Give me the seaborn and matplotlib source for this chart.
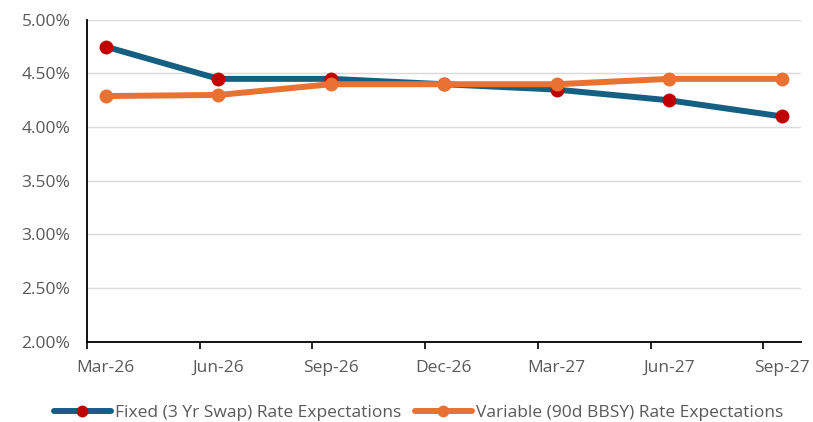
import numpy as np
import pandas as pd
import matplotlib
matplotlib.use("Agg")
import matplotlib.pyplot as plt
import seaborn as sns
from matplotlib.ticker import FixedLocator, FuncFormatter

# Quarterly periods and rate expectations (%)
periods = ["Mar-26", "Jun-26", "Sep-26", "Dec-26", "Mar-27", "Jun-27", "Sep-27"]
fixed_rates = [4.75, 4.45, 4.45, 4.40, 4.35, 4.25, 4.10]
variable_rates = [4.29, 4.30, 4.40, 4.40, 4.40, 4.45, 4.45]
fixed_label = "Fixed (3 Yr Swap) Rate Expectations"
variable_label = "Variable (90d BBSY) Rate Expectations"
y_ticks = [2.0, 2.5, 3.0, 3.5, 4.0, 4.5, 5.0]

sns.set_theme(style="white")
plt.rcParams["font.family"] = ["Open Sans", "DejaVu Sans"]

# Monthly date axis: each period sits mid-month, quarter marks on month starts
month_offset = np.arange(len(periods)) * 3
x_pos = month_offset + 0.5
df = pd.DataFrame({
    "x": np.concatenate([x_pos, x_pos]),
    "rate": fixed_rates + variable_rates,
    "series": [fixed_label] * len(periods) + [variable_label] * len(periods),
})

fig = plt.figure(figsize=(8.13, 4.22), dpi=100)
ax = fig.add_axes([0.107, 0.19, 0.878, 0.763])

blue = "#156082"
red = "#C00000"
orange = "#E97132"
grey_text = "#595959"
fs = 12.5

sns.lineplot(data=df[df.series == fixed_label], x="x", y="rate", ax=ax,
             color=blue, linewidth=4.3, marker="o", markersize=10,
             markerfacecolor=red, markeredgecolor=red, markeredgewidth=0,
             label=fixed_label, zorder=3)
sns.lineplot(data=df[df.series == variable_label], x="x", y="rate", ax=ax,
             color=orange, linewidth=4.3, marker="o", markersize=10,
             markerfacecolor=orange, markeredgecolor=orange, markeredgewidth=0,
             label=variable_label, zorder=4)

ax.set_xlim(0, 19)
ax.set_ylim(2.0, 5.0)
ax.set_xlabel("")
ax.set_ylabel("")

# Major ticks: quarter boundaries (marks only); minor ticks: period labels
ax.xaxis.set_major_locator(FixedLocator(list(month_offset)))
ax.xaxis.set_major_formatter(FuncFormatter(lambda v, p: ""))
ax.xaxis.set_minor_locator(FixedLocator(list(x_pos)))
ax.set_xticklabels(periods, minor=True)
ax.tick_params(axis="x", which="major", bottom=True, length=5, width=1.2,
               color="black", direction="out")
ax.tick_params(axis="x", which="minor", bottom=True, length=0, pad=13,
               labelsize=fs, labelcolor=grey_text)

ax.set_yticks(y_ticks)
ax.yaxis.set_major_formatter(FuncFormatter(lambda v, p: f"{v:.2f}%"))
ax.tick_params(axis="y", length=0, pad=12, labelsize=fs, labelcolor=grey_text)

ax.grid(axis="y", color="#D9D9D9", linewidth=1.0)
ax.grid(axis="x", visible=False)
ax.set_axisbelow(True)

for side in ["top", "right"]:
    ax.spines[side].set_visible(False)
for side in ["left", "bottom"]:
    ax.spines[side].set_color("black")
    ax.spines[side].set_linewidth(1.3)

ax.get_legend().remove()
handles, labels = ax.get_legend_handles_labels()
leg = fig.legend(handles, labels, loc="center", bbox_to_anchor=(0.515, 0.022),
                 ncol=2, frameon=False, fontsize=fs, handlelength=3.25,
                 handletextpad=0.25, columnspacing=0.8, numpoints=1,
                 borderaxespad=0, borderpad=0)
for txt in leg.get_texts():
    txt.set_color(grey_text)
for h in leg.legend_handles:
    h.set_markersize(8.5)

fig.savefig("out.png", dpi=100)
